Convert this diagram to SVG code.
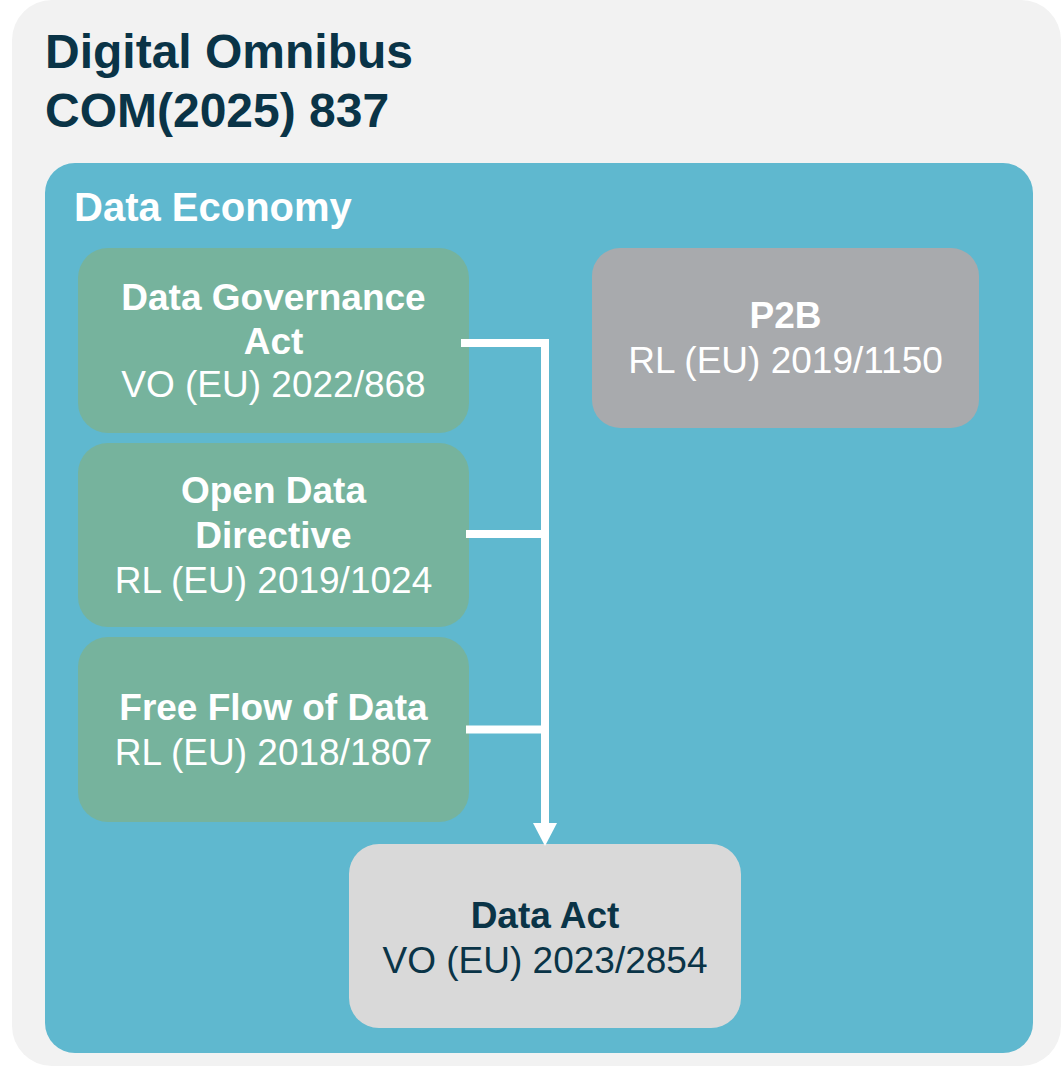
<svg xmlns="http://www.w3.org/2000/svg" width="1063" height="1066" viewBox="0 0 1063 1066">
<style>
  text { font-family: "Liberation Sans", Arial, sans-serif; text-anchor: middle; }
  .b { font-weight: bold; font-size: 37px; }
  .r { font-size: 37px; }
  .w { fill: #FFFFFF; }
  .d { fill: #0A3447; }
  .green { fill: #76B39D; }
  .conn { fill: none; stroke: #FFFFFF; stroke-width: 8; }
</style>
<defs>
  <marker id="arrow" markerUnits="userSpaceOnUse" viewBox="0 0 23 24" markerWidth="23" markerHeight="24" refX="0" refY="12" orient="auto">
    <path d="M0,0 L23,12 L0,24 Z" fill="#FFFFFF"/>
  </marker>
</defs>
<g id="omnibus">
  <rect x="12" y="0" width="1049" height="1066" rx="40" fill="#F2F2F2"/>
  <text x="45" y="68" class="d" style="text-anchor:start;font-weight:bold;font-size:48px">Digital Omnibus</text>
  <text x="45" y="127" class="d" style="text-anchor:start;font-weight:bold;font-size:48px">COM(2025) 837</text>
</g>
<g id="data-economy">
  <rect x="45" y="163" width="988" height="890" rx="30" fill="#5FB8CF"/>
  <text x="74" y="221" class="w" style="text-anchor:start;font-weight:bold;font-size:40px">Data Economy</text>
</g>
<g id="dga">
  <rect x="78" y="248" width="391" height="185" rx="30" class="green"/>
  <text x="273.5" y="310" class="b w">Data Governance</text>
  <text x="273.5" y="354" class="b w">Act</text>
  <text x="273.5" y="397" class="r w">VO (EU) 2022/868</text>
</g>
<g id="odd">
  <rect x="78" y="443" width="391" height="184" rx="30" class="green"/>
  <text x="273.5" y="503" class="b w">Open Data</text>
  <text x="273.5" y="548" class="b w">Directive</text>
  <text x="273.5" y="593" class="r w">RL (EU) 2019/1024</text>
</g>
<g id="ffd">
  <rect x="78" y="637" width="391" height="185" rx="30" class="green"/>
  <text x="273.5" y="720" class="b w">Free Flow of Data</text>
  <text x="273.5" y="765" class="r w">RL (EU) 2018/1807</text>
</g>
<g id="p2b">
  <rect x="592" y="248" width="387" height="180" rx="28" fill="#A8AAAD"/>
  <text x="785.5" y="328" class="b w">P2B</text>
  <text x="785.5" y="373" class="r w">RL (EU) 2019/1150</text>
</g>
<g id="data-act">
  <rect x="349" y="844" width="392" height="184" rx="30" fill="#D9D9D9"/>
  <text x="545" y="928" class="b d">Data Act</text>
  <text x="545" y="973" class="r d">VO (EU) 2023/2854</text>
</g>
<g id="connectors">
  <path class="conn" d="M461,343 H545 V823" marker-end="url(#arrow)"/>
  <path class="conn" d="M466,534 H545"/>
  <path class="conn" d="M466,729.5 H545"/>
</g>
</svg>
